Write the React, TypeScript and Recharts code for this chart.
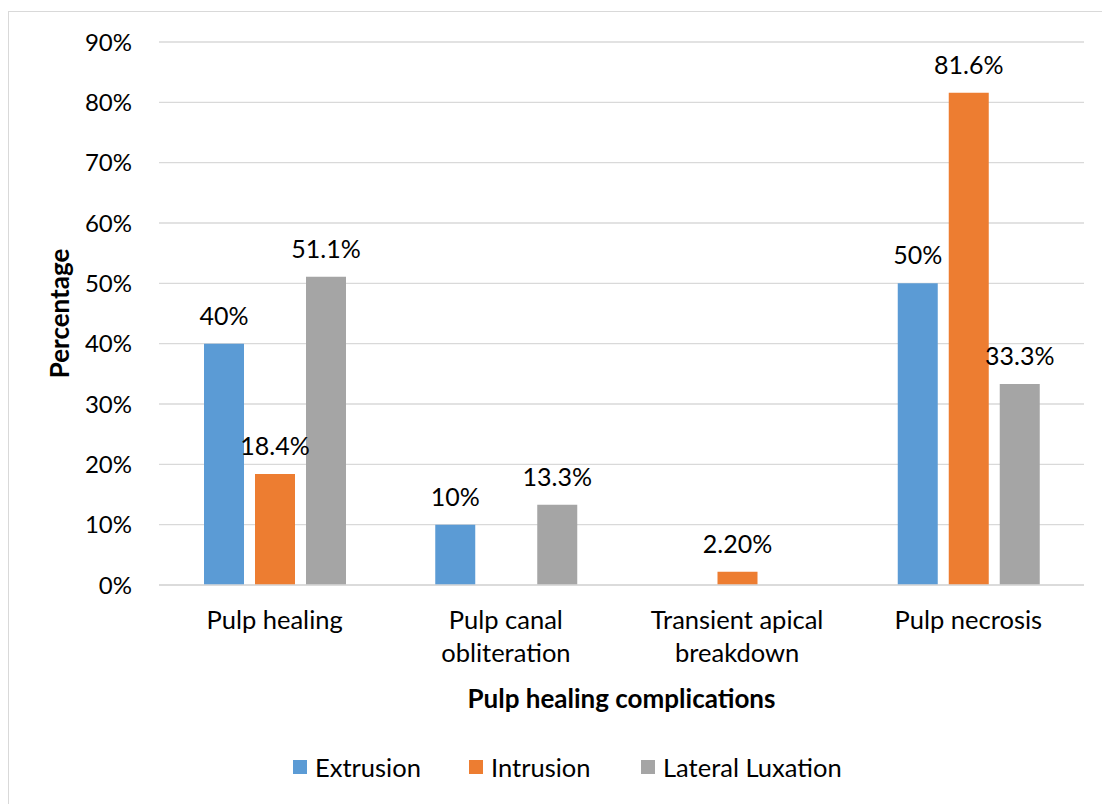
import React from 'react';
import { BarChart, Bar, XAxis, YAxis, CartesianGrid, Legend, LabelList } from 'recharts';

const categories = ['Pulp healing', 'Pulp canal obliteration', 'Transient apical breakdown', 'Pulp necrosis'];
const categoryLines: Record<string, string[]> = {
  'Pulp healing': ['Pulp healing'],
  'Pulp canal obliteration': ['Pulp canal', 'obliteration'],
  'Transient apical breakdown': ['Transient apical', 'breakdown'],
  'Pulp necrosis': ['Pulp necrosis'],
};

const extrusion = [40, 10, null, 50];
const intrusion = [18.4, null, 2.2, 81.6];
const lateral = [51.1, 13.3, null, 33.3];

const extrusionLabels = ['40%', '10%', null, '50%'];
const intrusionLabels = ['18.4%', null, '2.20%', '81.6%'];
const lateralLabels = ['51.1%', '13.3%', null, '33.3%'];

const yTicks = [0, 10, 20, 30, 40, 50, 60, 70, 80, 90];

const seriesNames = ['Extrusion', 'Intrusion', 'Lateral Luxation'];
const colors = ['#5B9BD5', '#ED7D31', '#A5A5A5'];

const data = categories.map((c, i) => ({
  category: c,
  extrusion: extrusion[i],
  intrusion: intrusion[i],
  lateral: lateral[i],
  extrusionLabel: extrusionLabels[i],
  intrusionLabel: intrusionLabels[i],
  lateralLabel: lateralLabels[i],
}));

const FONT = 'Lato, "Open Sans", sans-serif';

const CategoryTick = (props: any) => {
  const { x, y, payload } = props;
  const lines = categoryLines[payload.value] || [payload.value];
  return (
    <g>
      {lines.map((ln, i) => (
        <text
          key={i}
          x={x}
          y={y + 43.5 + i * 33.5}
          textAnchor="middle"
          fontSize={25.5}
          fill="#000"
          fontFamily={FONT}
        >
          {ln}
        </text>
      ))}
    </g>
  );
};

const itemWidths = [176, 172, 230];

const LegendContent = (props: any) => {
  const payload = props.payload || [];
  return (
    <div style={{ display: 'flex', flexDirection: 'row', fontFamily: FONT, fontSize: 25.5, lineHeight: '26px', height: 26, color: '#000' }}>
      {payload.map((p: any, i: number) => (
        <div key={i} style={{ display: 'flex', alignItems: 'center', width: itemWidths[i] }}>
          <div style={{ width: 14, height: 14, background: p.color, marginRight: 8, flex: 'none' }} />
          <span style={{ whiteSpace: 'nowrap' }}>{p.value}</span>
        </div>
      ))}
    </div>
  );
};

export default function App() {
  return (
    <div
      style={{
        marginTop: 3,
        borderTop: '1px solid #d9d9d9',
        borderLeft: '1px solid #d9d9d9',
        width: 1101,
        height: 792,
        fontFamily: FONT,
        background: '#fff',
      }}
    >
      <BarChart
        width={1101}
        height={792}
        data={data}
        margin={{ top: 30, right: 26, bottom: 0, left: 0 }}
        barGap={11}
        barSize={40}
        style={{ fontFamily: FONT }}
      >
        <CartesianGrid vertical={false} stroke="#d9d9d9" strokeWidth={1.3} />
        <XAxis
          dataKey="category"
          height={219}
          tickLine={false}
          tickSize={0}
          tickMargin={0}
          axisLine={{ stroke: '#d9d9d9', strokeWidth: 1.3 }}
          tick={<CategoryTick />}
          interval={0}
          label={{
            value: 'Pulp healing complications',
            position: 'insideTop',
            offset: 105,
            fontWeight: 'bold',
            fill: '#000',
            fontSize: 26,
            fontFamily: FONT,
          }}
        />
        <YAxis
          width={150}
          domain={[0, 90]}
          ticks={yTicks}
          interval={0}
          tickFormatter={(v: number) => `${v}%`}
          tickLine={false}
          tickSize={0}
          tickMargin={27}
          axisLine={false}
          tick={{ fill: '#000', fontSize: 24, fontFamily: FONT }}
          label={{
            value: 'Percentage',
            angle: -90,
            position: 'center',
            dx: -24,
            fontWeight: 'bold',
            fill: '#000',
            fontSize: 26,
            fontFamily: FONT,
          }}
        />
        <Legend
          verticalAlign="middle"
          align="center"
          layout="horizontal"
          wrapperStyle={{ top: 742, left: 284, width: 760, height: 26 }}
          content={<LegendContent />}
        />
        <Bar dataKey="extrusion" name={seriesNames[0]} fill={colors[0]} isAnimationActive={false}>
          <LabelList dataKey="extrusionLabel" position="top" offset={19} fill="#000" fontSize={25} fontFamily={FONT} />
        </Bar>
        <Bar dataKey="intrusion" name={seriesNames[1]} fill={colors[1]} isAnimationActive={false}>
          <LabelList dataKey="intrusionLabel" position="top" offset={19} fill="#000" fontSize={25} fontFamily={FONT} />
        </Bar>
        <Bar dataKey="lateral" name={seriesNames[2]} fill={colors[2]} isAnimationActive={false}>
          <LabelList dataKey="lateralLabel" position="top" offset={19} fill="#000" fontSize={25} fontFamily={FONT} />
        </Bar>
      </BarChart>
    </div>
  );
}
